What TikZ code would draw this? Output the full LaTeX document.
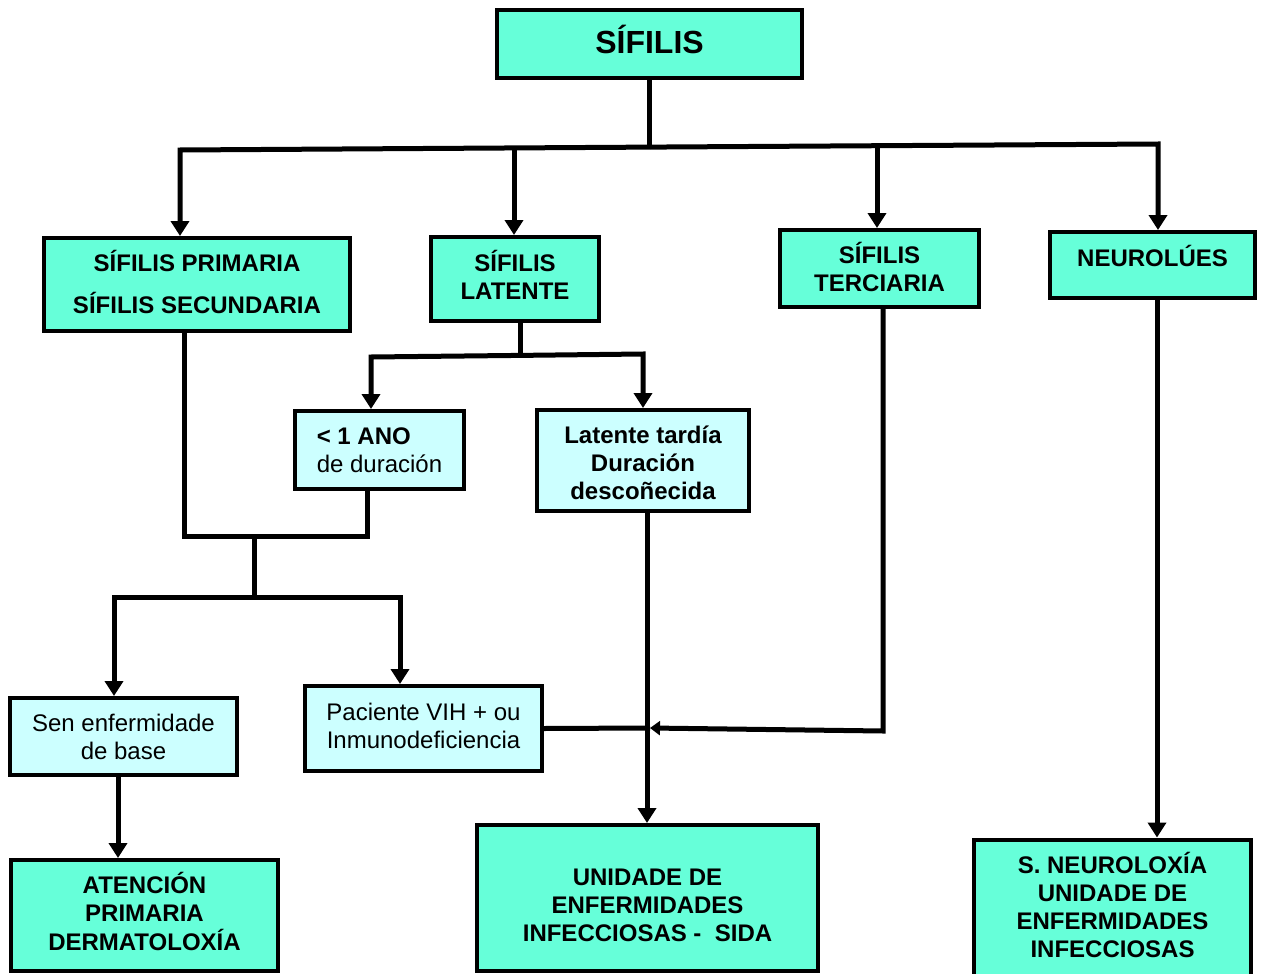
\documentclass[tikz,border=0pt]{standalone}
\usepackage{fontspec}
\setmainfont{Liberation Sans}
\usetikzlibrary{arrows.meta}
\definecolor{boxdark}{HTML}{66FFD9}
\definecolor{boxlight}{HTML}{CCFFFF}
% shift a box vertically without changing its reported extent
\newcommand\lift[2]{\raisebox{#1}[\height][\depth]{#2}}
% centred block of lines, shifted vertically
\newcommand\liftlines[2]{\lift{#1}{\begin{tabular}{@{}c@{}}#2\end{tabular}}}
\begin{document}
\begin{tikzpicture}[x=1pt,y=-1pt,
  box/.style={draw=black,line width=4pt,align=center,inner sep=0pt,
    font=\bfseries\fontsize{24}{28}\selectfont},
  major/.style={box,fill=boxdark},
  minor/.style={box,fill=boxlight},
  plain/.style={font=\fontsize{24}{28}\selectfont},
  wire/.style={line width=5pt,line join=miter},
  arrow/.style={wire,-{Triangle[width=18pt,length=15pt]}}]
\useasboundingbox (0,0) rectangle (1261,974);
\clip (0,0) rectangle (1261,974);

% boxes
\node[major,minimum width=305pt,minimum height=68pt,
      font=\bfseries\fontsize{32}{38}\selectfont] (sif) at (649.5,44) {\lift{5pt}{SÍFILIS}};
\node[major,minimum width=306pt,minimum height=93pt,
      font=\bfseries\fontsize{24}{42}\selectfont] (prim) at (197,284.5)
      {\liftlines{0pt}{SÍFILIS PRIMARIA\\SÍFILIS SECUNDARIA}};
\node[major,minimum width=168pt,minimum height=84pt] (lat) at (515,279)
      {\liftlines{0pt}{SÍFILIS\\LATENTE}};
\node[major,minimum width=199pt,minimum height=77pt] (terc) at (879.5,268.5)
      {\liftlines{-3pt}{SÍFILIS\\TERCIARIA}};
\node[major,minimum width=205pt,minimum height=66pt] (neu) at (1152.5,265) {\lift{9pt}{NEUROLÚES}};
\node[minor,plain,align=left,minimum width=169pt,minimum height=78pt] (ano) at (379.5,450)
      {\textbf{< 1 ANO}\\de duración};
\node[minor,minimum width=212pt,minimum height=101pt] (tar) at (643,460.5)
      {\liftlines{-5.5pt}{Latente tardía\\Duración\\descoñecida}};
\node[minor,plain,minimum width=227pt,minimum height=77pt] (sen) at (123.5,736.5)
      {Sen enfermidade\\de base};
\node[minor,plain,minimum width=237pt,minimum height=85pt] (vih) at (423.5,728.5)
      {\liftlines{-0.5pt}{Paciente VIH + ou\\Inmunodeficiencia}};
\node[major,minimum width=267pt,minimum height=111pt] (ate) at (144.5,915.5)
      {\liftlines{0pt}{ATENCIÓN\\PRIMARIA\\DERMATOLOXÍA}};
\node[major,minimum width=341pt,minimum height=146pt] (uni) at (647.5,898)
      {\liftlines{-10pt}{UNIDADE DE\\ENFERMIDADES\\INFECCIOSAS -\ \ SIDA}};
\node[major,minimum width=277pt,minimum height=145pt] (sne) at (1112.5,912)
      {\liftlines{3pt}{S. NEUROLOXÍA\\UNIDADE DE\\ENFERMIDADES\\INFECCIOSAS}};

% junction points
\coordinate (j0) at (650,147.1);
\coordinate (bl) at (180,150);
\coordinate (br) at (1158,144);
\coordinate (bLat) at (514,148);
\coordinate (bTerc) at (877,145.7);
\coordinate (jL) at (520,355.4);
\coordinate (lL) at (371,357);
\coordinate (lR) at (643,354);
\coordinate (pA) at (184,536);
\coordinate (pB) at (367,536);
\coordinate (jM) at (254,536);
\coordinate (jN) at (254,597);
\coordinate (sL) at (114,597);
\coordinate (sR) at (400,597);
\coordinate (cA) at (118,800);
\coordinate (cT) at (647,600);
\coordinate (jV) at (650,728);
\coordinate (tC) at (883,731);
\coordinate (cN) at (1157,500);

% top level
\draw[wire] (sif.south) -- (sif.south |- j0);
\draw[arrow] (j0) -- (bl) -- (bl |- prim.north);
\draw[arrow] (j0) -- (br) -- (br |- neu.north);
\draw[arrow] (bLat) -- (bLat |- lat.north);
\draw[arrow] (bTerc) -- (bTerc |- terc.north);

% latent branch
\draw[wire] (lat.south -| jL) -- (jL);
\draw[arrow] (jL) -- (lL) -- (lL |- ano.north);
\draw[arrow] (jL) -- (lR) -- (lR |- tar.north);

% early syphilis merge
\draw[wire] (pA |- prim.south) -- (pA) -- (pB) -- (pB |- ano.south);
\draw[wire] (jM) -- (jN);
\draw[arrow] (jN) -- (sL) -- (sL |- sen.north);
\draw[arrow] (jN) -- (sR) -- (sR |- vih.north);
\draw[arrow] (cA |- sen.south) -- (cA |- ate.north);

% referral to infectious diseases unit
\draw[arrow] (cT |- tar.south) -- (cT |- uni.north);
\draw[wire] (vih.east) -- (jV);
\draw[wire,-{Triangle[width=14pt,length=10pt]}] (tC |- terc.south) -- (tC) -- (jV);

% neurosyphilis
\draw[arrow] (cN |- neu.south) -- (cN |- sne.north);
\end{tikzpicture}
\end{document}
